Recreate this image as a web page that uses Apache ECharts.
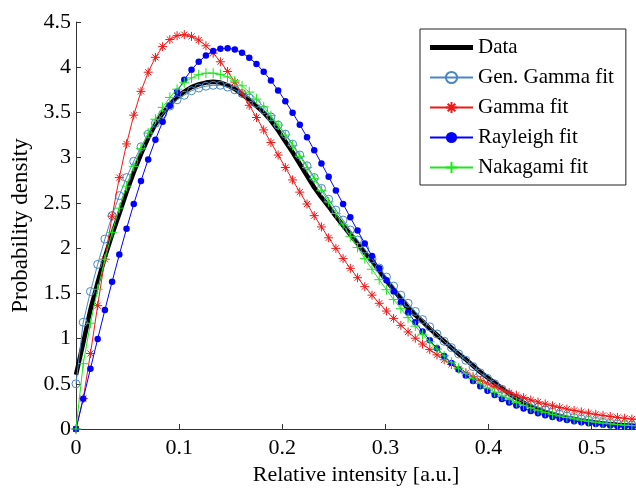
<!DOCTYPE html>
<html>
<head>
<meta charset="utf-8">
<script src="https://cdn.jsdelivr.net/npm/echarts@6/dist/echarts.min.js"></script>
<style>
html,body{margin:0;padding:0;background:#fff;}
#c{width:636px;height:491px;}
</style>
</head>
<body>
<div id="c"></div>
<script>
// Sample positions (relative intensity)
const xVals = [0,0.007,0.014,0.021,0.028,0.035,0.042,0.049,0.056,0.063,0.07,0.077,0.084,0.091,0.098,0.105,0.112,0.119,0.126,0.133,0.14,0.147,0.154,0.161,0.168,0.175,0.182,0.189,0.196,0.203,0.21,0.217,0.224,0.231,0.238,0.245,0.252,0.259,0.266,0.273,0.28,0.287,0.294,0.301,0.308,0.315,0.322,0.329,0.336,0.343,0.35,0.357,0.364,0.371,0.378,0.385,0.392,0.399,0.406,0.413,0.42,0.427,0.434,0.441,0.448,0.455,0.462,0.469,0.476,0.483,0.49,0.497,0.504,0.511,0.518,0.525,0.532,0.539,0.546];

const dataVals = [0.60,0.95,1.32,1.62,1.90,2.15,2.38,2.62,2.84,3.04,3.22,3.37,3.49,3.59,3.67,3.73,3.78,3.81,3.83,3.84,3.83,3.80,3.76,3.70,3.64,3.57,3.50,3.41,3.30,3.18,3.06,2.93,2.80,2.67,2.56,2.46,2.35,2.25,2.15,2.05,1.95,1.86,1.75,1.64,1.54,1.44,1.34,1.26,1.19,1.11,1.04,0.97,0.90,0.83,0.77,0.70,0.63,0.57,0.51,0.45,0.39,0.34,0.29,0.25,0.22,0.19,0.165,0.145,0.125,0.11,0.095,0.083,0.072,0.062,0.054,0.047,0.041,0.036,0.031];

const genGammaVals = [0.50,1.18,1.52,1.82,2.10,2.36,2.58,2.78,2.96,3.12,3.26,3.38,3.48,3.57,3.64,3.69,3.74,3.77,3.79,3.80,3.80,3.78,3.75,3.71,3.66,3.60,3.53,3.45,3.36,3.26,3.15,3.03,2.91,2.78,2.66,2.54,2.42,2.31,2.20,2.09,1.99,1.88,1.78,1.68,1.58,1.48,1.39,1.30,1.21,1.13,1.05,0.97,0.90,0.83,0.76,0.69,0.62,0.56,0.50,0.44,0.38,0.34,0.30,0.27,0.24,0.21,0.185,0.163,0.143,0.126,0.11,0.096,0.084,0.073,0.063,0.055,0.048,0.041,0.036];

const gammaVals = [0,0.337,0.835,1.364,1.877,2.353,2.78,3.152,3.47,3.733,3.945,4.109,4.228,4.306,4.349,4.36,4.341,4.3,4.237,4.156,4.06,3.953,3.835,3.71,3.579,3.444,3.307,3.168,3.029,2.891,2.754,2.619,2.488,2.359,2.234,2.114,1.997,1.884,1.776,1.673,1.574,1.48,1.39,1.304,1.223,1.146,1.073,1.004,0.939,0.878,0.82,0.765,0.714,0.665,0.62,0.578,0.538,0.5,0.465,0.433,0.402,0.374,0.347,0.322,0.299,0.277,0.257,0.238,0.221,0.205,0.189,0.175,0.162,0.15,0.139,0.128,0.119,0.11,0.101];

const rayleighVals = [0,0.335,0.667,0.995,1.316,1.628,1.928,2.215,2.488,2.743,2.981,3.199,3.397,3.574,3.729,3.862,3.972,4.06,4.13,4.18,4.205,4.21,4.195,4.16,4.105,4.035,3.95,3.852,3.743,3.625,3.498,3.365,3.226,3.083,2.936,2.788,2.638,2.488,2.34,2.194,2.051,1.912,1.777,1.646,1.521,1.401,1.288,1.18,1.078,0.982,0.892,0.808,0.73,0.657,0.591,0.53,0.474,0.422,0.375,0.333,0.294,0.26,0.228,0.2,0.175,0.153,0.133,0.116,0.1,0.087,0.075,0.064,0.055,0.047,0.04,0.034,0.029,0.025,0.021];

const nakagamiVals = [0,0.722,1.169,1.545,1.876,2.174,2.442,2.685,2.904,3.099,3.272,3.425,3.556,3.666,3.757,3.829,3.882,3.917,3.934,3.935,3.921,3.892,3.849,3.794,3.725,3.648,3.561,3.464,3.361,3.25,3.136,3.015,2.892,2.767,2.639,2.511,2.383,2.256,2.13,2.006,1.884,1.766,1.651,1.54,1.432,1.33,1.231,1.137,1.048,0.964,0.884,0.809,0.739,0.673,0.612,0.555,0.502,0.453,0.408,0.367,0.329,0.294,0.263,0.234,0.208,0.184,0.163,0.144,0.127,0.112,0.098,0.086,0.075,0.065,0.057,0.049,0.043,0.037,0.032];

const seriesNames = ['Data','Gen. Gamma fit','Gamma fit','Rayleigh fit','Nakagami fit'];
const xTicks = [0,0.1,0.2,0.3,0.4,0.5];
const yTicks = [0,0.5,1,1.5,2,2.5,3,3.5,4,4.5];

function pairs(ys){ return xVals.map((x,i)=>[x, ys[i]]); }

const FONT = 'Liberation Serif';
const asterisk = 'path://M5,0L5,10M0,5L10,5M1.6,1.6L8.4,8.4M1.6,8.4L8.4,1.6';
const plusSym = 'path://M0,5L10,5M5,0L5,10';

const cGen = '#4a86c5', cGam = '#f01818', cRay = '#0000ff', cNak = '#1ee61e';

const chart = echarts.init(document.getElementById('c'), null, {renderer:'canvas'});
chart.setOption({
  animation:false,
  backgroundColor:'#fff',
  grid:{left:76, right:0, top:22, bottom:54, containLabel:false},
  legend:{
    orient:'vertical', left:420, top:29,
    data:[
      {name:seriesNames[0], icon:'path://M0,0L43,0L43,5L0,5Z', itemStyle:{color:'#000', borderWidth:0}},
      seriesNames[1], seriesNames[2], seriesNames[3], seriesNames[4]
    ],
    itemWidth:43, itemHeight:14, itemGap:9,
    padding:[8,12,7,9],
    borderColor:'#222', borderWidth:1, backgroundColor:'#fff',
    textStyle:{fontFamily:FONT, fontSize:21, color:'#000', lineHeight:20},
    selectedMode:false
  },
  xAxis:{
    type:'value', min:0, max:0.543, interval:0.1,
    name:'Relative intensity [a.u.]', nameLocation:'middle', nameGap:35,
    nameTextStyle:{fontFamily:FONT, fontSize:22, color:'#000'},
    axisLine:{show:true, lineStyle:{color:'#333', width:1}},
    axisTick:{show:true, inside:true, length:5, lineStyle:{color:'#333'}},
    axisLabel:{fontFamily:FONT, fontSize:22, color:'#000', margin:8, showMaxLabel:false,
      formatter:function(v){ const t = xTicks.find(k=>Math.abs(k-v)<1e-6); return t===undefined?'':String(t); }},
    splitLine:{show:false}
  },
  yAxis:{
    type:'value', min:0, max:4.5, interval:0.5,
    name:'Probability density', nameLocation:'middle', nameGap:40,
    nameTextStyle:{fontFamily:FONT, fontSize:23, color:'#000'},
    axisLine:{show:true, lineStyle:{color:'#333', width:1}},
    axisTick:{show:true, inside:true, length:5, lineStyle:{color:'#333'}},
    axisLabel:{fontFamily:FONT, fontSize:22, color:'#000', margin:5,
      formatter:function(v){ const t = yTicks.find(k=>Math.abs(k-v)<1e-6); return t===undefined?'':String(t); }},
    splitLine:{show:false}
  },
  series:[
    {name:seriesNames[0], type:'line', data:pairs(dataVals), symbol:'none', showSymbol:false,
      lineStyle:{color:'#000', width:4.5}, itemStyle:{color:'#000'}, z:2},
    {name:seriesNames[1], type:'line', data:pairs(genGammaVals), symbol:'circle', symbolSize:8,
      lineStyle:{color:cGen, width:1}, itemStyle:{color:'rgba(0,0,0,0)', borderColor:cGen, borderWidth:1}, z:3},
    {name:seriesNames[2], type:'line', data:pairs(gammaVals), symbol:asterisk, symbolSize:9,
      lineStyle:{color:cGam, width:1}, itemStyle:{color:cGam, borderColor:cGam, borderWidth:1}, z:4},
    {name:seriesNames[3], type:'line', data:pairs(rayleighVals), symbol:'circle', symbolSize:6.5,
      lineStyle:{color:cRay, width:1}, itemStyle:{color:cRay, borderWidth:0}, z:5},
    {name:seriesNames[4], type:'line', data:pairs(nakagamiVals), symbol:plusSym, symbolSize:10,
      lineStyle:{color:cNak, width:1}, itemStyle:{color:cNak, borderColor:cNak, borderWidth:1}, z:6}
  ]
});
</script>
</body>
</html>
